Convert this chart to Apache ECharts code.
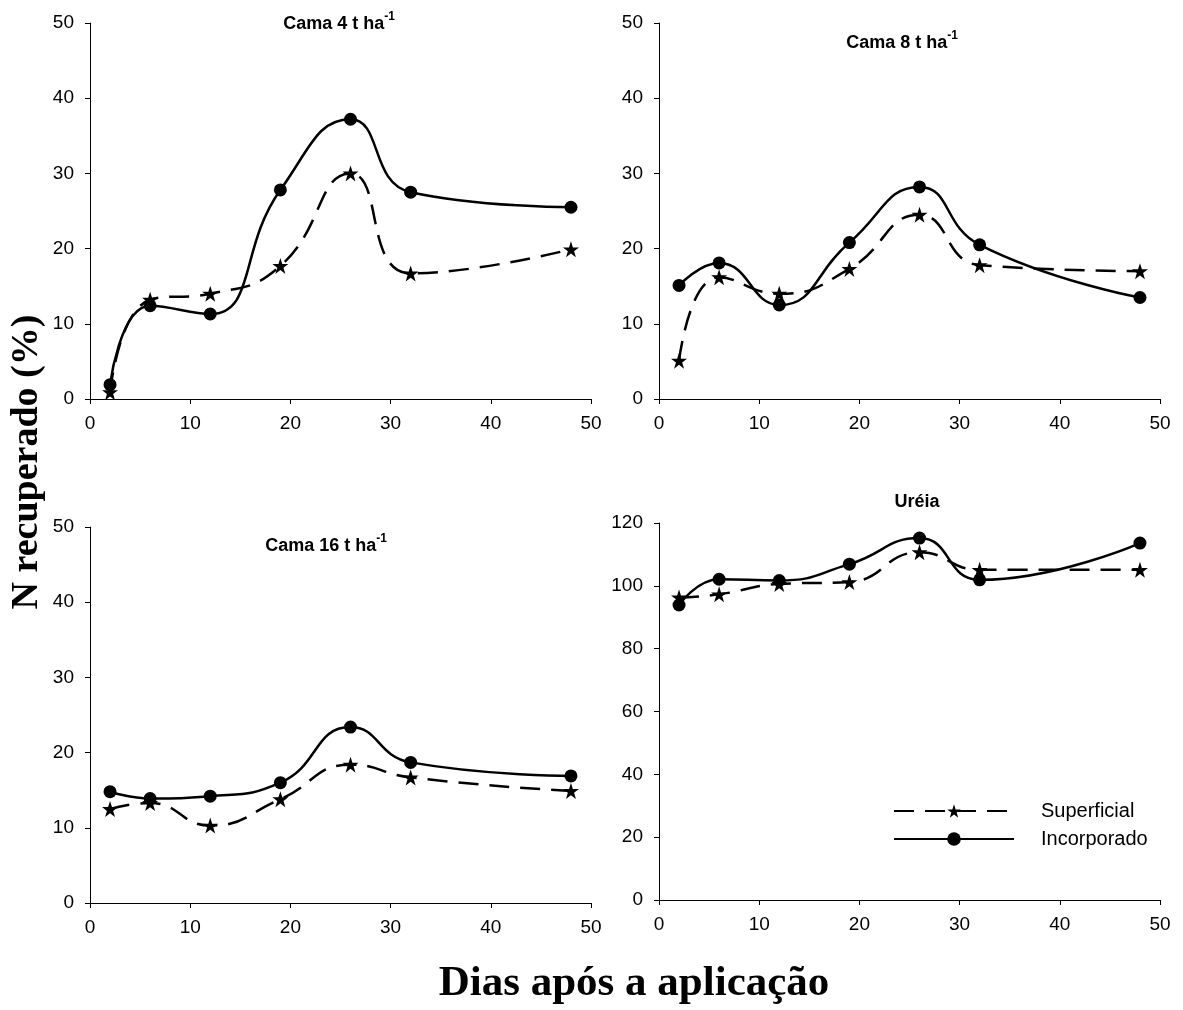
<!DOCTYPE html>
<html>
<head>
<meta charset="utf-8">
<script src="https://cdn.jsdelivr.net/npm/echarts@6/dist/echarts.min.js"></script>
<style>
  html, body { margin: 0; padding: 0; background: #fff; }
  #chart { width: 1183px; height: 1010px; }
</style>
</head>
<body>
<div id="chart"></div>
<script>
// Days after application (sampling dates)
const days = [2, 6, 12, 19, 26, 32, 48];
const xTicks = [0, 10, 20, 30, 40, 50];

// Recovered N (%) per treatment
const cama4Superficial   = [0.9, 13.2, 14.0, 17.7, 30.0, 16.7, 19.9];
const cama4Incorporado   = [1.9, 12.4, 11.3, 27.8, 37.2, 27.5, 25.5];
const cama8Superficial   = [5.1, 16.2, 14.0, 17.3, 24.5, 17.8, 17.0];
const cama8Incorporado   = [15.1, 18.1, 12.5, 20.8, 28.2, 20.5, 13.5];
const cama16Superficial  = [12.5, 13.3, 10.3, 13.8, 18.4, 16.7, 14.9];
const cama16Incorporado  = [14.8, 13.9, 14.2, 16.0, 23.4, 18.7, 16.9];
const ureiaSuperficial   = [96.3, 97.3, 100.6, 101.2, 110.7, 105.1, 105.1];
const ureiaIncorporado   = [93.9, 102.1, 101.7, 106.9, 115.2, 101.9, 113.6];

const panelTitles = ['Cama 4 t ha', 'Cama 8 t ha', 'Cama 16 t ha', 'Uréia'];
const seriesNames = ['Superficial', 'Incorporado'];

const STAR = 'path://M50,0 L61.8,35.4 L99,35.4 L69,57.3 L80.3,92.7 L50,70.8 L19.7,92.7 L31,57.3 L1,35.4 L38.2,35.4 Z';

const grids = [
  { left: 90,  top: 23,  width: 501, height: 376 },
  { left: 659, top: 23,  width: 501, height: 376 },
  { left: 90,  top: 527, width: 501, height: 376 },
  { left: 659, top: 523, width: 501, height: 377 }
];

const axisFont = { fontFamily: 'Liberation Sans, Arial', fontSize: 19, color: '#000' };

const xAxes = grids.map((g, i) => ({
  type: 'value', gridIndex: i, min: xTicks[0], max: xTicks[xTicks.length - 1], interval: 10,
  axisLine: { show: true, onZero: false, lineStyle: { color: '#000', width: 1 } },
  axisTick: { show: true, length: 5, lineStyle: { color: '#000' } },
  axisLabel: Object.assign({ margin: 15 }, axisFont),
  splitLine: { show: false }
}));

const yAxes = grids.map((g, i) => ({
  type: 'value', gridIndex: i, min: 0,
  max: i === 3 ? 120 : 50, interval: i === 3 ? 20 : 10,
  axisLine: { show: true, onZero: false, lineStyle: { color: '#000', width: 1 } },
  axisTick: { show: true, length: 5, lineStyle: { color: '#000' } },
  axisLabel: Object.assign({ margin: 16 }, axisFont),
  splitLine: { show: false }
}));

const panelData = [
  [cama4Superficial, cama4Incorporado],
  [cama8Superficial, cama8Incorporado],
  [cama16Superficial, cama16Incorporado],
  [ureiaSuperficial, ureiaIncorporado]
];

const series = [];
panelData.forEach((pair, i) => {
  series.push({
    name: seriesNames[0], type: 'line', xAxisIndex: i, yAxisIndex: i,
    data: days.map((d, k) => [d, pair[0][k]]),
    smooth: 0.5,
    symbol: STAR, symbolSize: 16, showSymbol: true,
    lineStyle: { color: '#000', width: 2.5, type: [20, 11] },
    itemStyle: { color: '#000' },
    z: 2, silent: true
  });
  series.push({
    name: seriesNames[1], type: 'line', xAxisIndex: i, yAxisIndex: i,
    data: days.map((d, k) => [d, pair[1][k]]),
    smooth: 0.5,
    symbol: 'circle', symbolSize: 13, showSymbol: true,
    lineStyle: { color: '#000', width: 2.5 },
    itemStyle: { color: '#000' },
    z: 3, silent: true
  });
});

const titleRich = {
  m: { fontFamily: 'Liberation Sans, Arial', fontSize: 18, fontWeight: 'bold', color: '#000', lineHeight: 22, verticalAlign: 'bottom' },
  s: { fontFamily: 'Liberation Sans, Arial', fontSize: 12, fontWeight: 'bold', color: '#000', lineHeight: 22, verticalAlign: 'top', padding: [0, 0, 10, 0] }
};

function panelTitle(text, sup, x, y) {
  return {
    type: 'text', x: x, y: y,
    style: {
      text: sup ? '{m|' + text + '}{s|-1}' : '{m|' + text + '}',
      rich: titleRich, align: 'center', verticalAlign: 'middle'
    }
  };
}

const option = {
  animation: false,
  backgroundColor: '#fff',
  grid: grids,
  xAxis: xAxes,
  yAxis: yAxes,
  series: series,
  legend: {
    data: seriesNames,
    orient: 'vertical',
    left: 888, top: 796,
    itemWidth: 120, itemHeight: 17, itemGap: 8,
    textStyle: { fontFamily: 'Liberation Sans, Arial', fontSize: 20, color: '#000', padding: [0, 0, 0, 22] },
    selectedMode: false
  },
  graphic: [
    panelTitle(panelTitles[0], true, 339, 22),
    panelTitle(panelTitles[1], true, 902, 41),
    panelTitle(panelTitles[2], true, 326, 544),
    panelTitle(panelTitles[3], false, 917, 500),
    {
      type: 'text', x: 634, y: 984,
      style: { text: 'Dias após a aplicação', fontFamily: 'Liberation Serif, Times New Roman', fontSize: 43, fontWeight: 'bold', fill: '#000', align: 'center', verticalAlign: 'middle' }
    },
    {
      type: 'text', x: 27, y: 462, rotation: Math.PI / 2,
      style: { text: 'N recuperado (%)', fontFamily: 'Liberation Serif, Times New Roman', fontSize: 38, fontWeight: 'bold', fill: '#000', align: 'center', verticalAlign: 'middle' }
    }
  ]
};

const chart = echarts.init(document.getElementById('chart'), null, { renderer: 'canvas' });
chart.setOption(option);
</script>
</body>
</html>
